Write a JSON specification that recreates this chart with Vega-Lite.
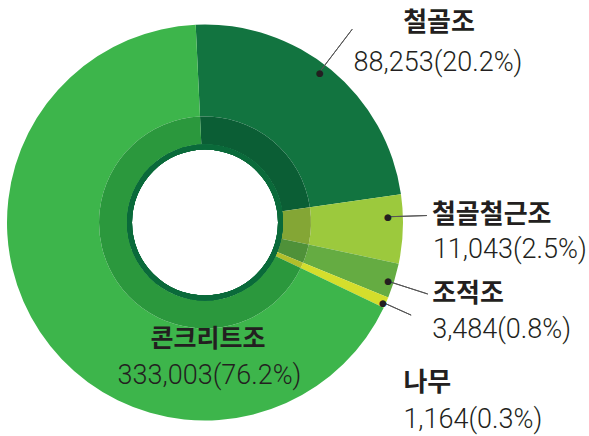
{
  "$schema": "https://vega.github.io/schema/vega-lite/v6.json",
  "width": 400,
  "height": 435,
  "background": "white",
  "config": {"view": {"stroke": null}},
  "data": {
    "values": [
      {"rank": 1, "type": "철골조", "value": 88253, "pct": 20.2, "label": "88,253(20.2%)", "drawn_pct": 23.47},
      {"rank": 2, "type": "철골철근조", "value": 11043, "pct": 2.5, "label": "11,043(2.5%)", "drawn_pct": 5.61},
      {"rank": 3, "type": "조적조", "value": 3484, "pct": 0.8, "label": "3,484(0.8%)", "drawn_pct": 2.86},
      {"rank": 4, "type": "나무", "value": 1164, "pct": 0.3, "label": "1,164(0.3%)", "drawn_pct": 0.89},
      {"rank": 5, "type": "콘크리트조", "value": 333003, "pct": 76.2, "label": "333,003(76.2%)", "drawn_pct": 67.17}
    ]
  },
  "transform": [
    {"stack": "drawn_pct", "groupby": [], "sort": [{"field": "rank", "order": "ascending"}], "as": ["t0", "t1"]},
    {"calculate": "(datum.t0 + datum.t1) / 2", "as": "mid"}
  ],
  "layer": [
    {
      "mark": {"type": "arc", "outerRadius": 198, "innerRadius": 106},
      "encoding": {
        "theta": {"field": "t0", "type": "quantitative", "stack": null, "scale": {"domain": [0, 100], "range": [-0.0471, 6.2361]}},
        "theta2": {"field": "t1"},
        "color": {"field": "type", "type": "nominal", "legend": null,
          "scale": {"domain": ["철골조", "철골철근조", "조적조", "나무", "콘크리트조"], "range": ["#127440", "#9CC93D", "#65AC42", "#D4DE2C", "#3DB54B"]}}
      }
    },
    {
      "mark": {"type": "arc", "outerRadius": 106, "innerRadius": 78},
      "encoding": {
        "theta": {"field": "t0", "type": "quantitative", "stack": null, "scale": {"domain": [0, 100], "range": [-0.0471, 6.2361]}},
        "theta2": {"field": "t1"},
        "fill": {"field": "type", "type": "nominal", "legend": null,
          "scale": {"domain": ["철골조", "철골철근조", "조적조", "나무", "콘크리트조"], "range": ["#0B5E35", "#84A635", "#4F9139", "#B2BE2B", "#2B983D"]}}
      }
    },
    {
      "mark": {"type": "arc", "theta": 0, "theta2": 6.2832, "outerRadius": 78, "innerRadius": 73, "color": "#0A6A3A"},
      "encoding": {}
    },
    {
      "transform": [{"filter": "datum.type === '철골조'"}],
      "layer": [
        {"mark": {"type": "arc", "filled": false, "stroke": "#555555", "strokeWidth": 1, "innerRadius": 189, "outerRadius": 243, "thetaOffset": -0.0393, "theta2Offset": -0.0393},
         "encoding": {"theta": {"field": "mid", "type": "quantitative", "stack": null, "scale": {"domain": [0, 100], "range": [-0.0471, 6.2361]}}, "theta2": {"field": "mid"}}},
        {"mark": {"type": "text", "text": "●", "radius": 188, "dx": -4.7, "dy": -4.7, "fontSize": 9, "font": "DejaVu Sans", "color": "#231F20", "align": "center", "baseline": "middle"},
         "encoding": {"theta": {"field": "mid", "type": "quantitative", "stack": null, "scale": {"domain": [0, 100], "range": [-0.0471, 6.2361]}}}},
        {"mark": {"type": "text", "radius": 188, "dx": 114.3, "dy": -54.2, "align": "center", "baseline": "middle", "font": "Noto Sans CJK KR", "fontWeight": "bold", "fontSize": 26, "color": "#231F20"},
         "encoding": {"theta": {"field": "mid", "type": "quantitative", "stack": null, "scale": {"domain": [0, 100], "range": [-0.0471, 6.2361]}}, "text": {"field": "type"}}},
        {"mark": {"type": "text", "radius": 188, "dx": 113.3, "dy": -15, "align": "center", "baseline": "middle", "font": "Roboto", "fontWeight": 300, "fontSize": 27, "color": "#231F20"},
         "encoding": {"theta": {"field": "mid", "type": "quantitative", "stack": null, "scale": {"domain": [0, 100], "range": [-0.0471, 6.2361]}}, "text": {"field": "label"}}}
      ]
    },
    {
      "transform": [{"filter": "datum.type === '철골철근조'"}],
      "layer": [
        {"mark": {"type": "arc", "filled": false, "stroke": "#555555", "strokeWidth": 1, "innerRadius": 183, "outerRadius": 222, "thetaOffset": -0.0644, "theta2Offset": -0.0644},
         "encoding": {"theta": {"field": "mid", "type": "quantitative", "stack": null, "scale": {"domain": [0, 100], "range": [-0.0471, 6.2361]}}, "theta2": {"field": "mid"}}},
        {"mark": {"type": "text", "text": "●", "radius": 188, "dx": -4.9, "dy": -11.9, "fontSize": 9, "font": "DejaVu Sans", "color": "#231F20", "align": "center", "baseline": "middle"},
         "encoding": {"theta": {"field": "mid", "type": "quantitative", "stack": null, "scale": {"domain": [0, 100], "range": [-0.0471, 6.2361]}}}},
        {"mark": {"type": "text", "radius": 188, "dx": 39, "dy": -13.9, "align": "left", "baseline": "middle", "font": "Noto Sans CJK KR", "fontWeight": "bold", "fontSize": 26, "color": "#231F20"},
         "encoding": {"theta": {"field": "mid", "type": "quantitative", "stack": null, "scale": {"domain": [0, 100], "range": [-0.0471, 6.2361]}}, "text": {"field": "type"}}},
        {"mark": {"type": "text", "radius": 188, "dx": 40, "dy": 21, "align": "left", "baseline": "middle", "font": "Roboto", "fontWeight": 300, "fontSize": 27, "color": "#231F20"},
         "encoding": {"theta": {"field": "mid", "type": "quantitative", "stack": null, "scale": {"domain": [0, 100], "range": [-0.0471, 6.2361]}}, "text": {"field": "label"}}}
      ]
    },
    {
      "transform": [{"filter": "datum.type === '조적조'"}],
      "layer": [
        {"mark": {"type": "arc", "filled": false, "stroke": "#555555", "strokeWidth": 1, "innerRadius": 192, "outerRadius": 234, "thetaOffset": 0.0115, "theta2Offset": 0.0115},
         "encoding": {"theta": {"field": "mid", "type": "quantitative", "stack": null, "scale": {"domain": [0, 100], "range": [-0.0471, 6.2361]}}, "theta2": {"field": "mid"}}},
        {"mark": {"type": "text", "text": "●", "radius": 188, "dx": 3.4, "dy": 2.9, "fontSize": 9, "font": "DejaVu Sans", "color": "#231F20", "align": "center", "baseline": "middle"},
         "encoding": {"theta": {"field": "mid", "type": "quantitative", "stack": null, "scale": {"domain": [0, 100], "range": [-0.0471, 6.2361]}}}},
        {"mark": {"type": "text", "radius": 188, "dx": 47.5, "dy": 15.9, "align": "left", "baseline": "middle", "font": "Noto Sans CJK KR", "fontWeight": "bold", "fontSize": 26, "color": "#231F20"},
         "encoding": {"theta": {"field": "mid", "type": "quantitative", "stack": null, "scale": {"domain": [0, 100], "range": [-0.0471, 6.2361]}}, "text": {"field": "type"}}},
        {"mark": {"type": "text", "radius": 188, "dx": 47.5, "dy": 52, "align": "left", "baseline": "middle", "font": "Roboto", "fontWeight": 300, "fontSize": 27, "color": "#231F20"},
         "encoding": {"theta": {"field": "mid", "type": "quantitative", "stack": null, "scale": {"domain": [0, 100], "range": [-0.0471, 6.2361]}}, "text": {"field": "label"}}}
      ]
    },
    {
      "transform": [{"filter": "datum.type === '나무'"}],
      "layer": [
        {"mark": {"type": "arc", "filled": false, "stroke": "#555555", "strokeWidth": 1, "innerRadius": 195, "outerRadius": 226, "thetaOffset": 0.0054, "theta2Offset": 0.0054},
         "encoding": {"theta": {"field": "mid", "type": "quantitative", "stack": null, "scale": {"domain": [0, 100], "range": [-0.0471, 6.2361]}}, "theta2": {"field": "mid"}}},
        {"mark": {"type": "text", "text": "●", "radius": 188, "dx": 6.1, "dy": 4.2, "fontSize": 9, "font": "DejaVu Sans", "color": "#231F20", "align": "center", "baseline": "middle"},
         "encoding": {"theta": {"field": "mid", "type": "quantitative", "stack": null, "scale": {"domain": [0, 100], "range": [-0.0471, 6.2361]}}}},
        {"mark": {"type": "text", "radius": 188, "dx": 26.5, "dy": 84.7, "align": "left", "baseline": "middle", "font": "Noto Sans CJK KR", "fontWeight": "bold", "fontSize": 26, "color": "#231F20"},
         "encoding": {"theta": {"field": "mid", "type": "quantitative", "stack": null, "scale": {"domain": [0, 100], "range": [-0.0471, 6.2361]}}, "text": {"field": "type"}}},
        {"mark": {"type": "text", "radius": 188, "dx": 26.5, "dy": 121, "align": "left", "baseline": "middle", "font": "Roboto", "fontWeight": 300, "fontSize": 27, "color": "#231F20"},
         "encoding": {"theta": {"field": "mid", "type": "quantitative", "stack": null, "scale": {"domain": [0, 100], "range": [-0.0471, 6.2361]}}, "text": {"field": "label"}}}
      ]
    },
    {
      "transform": [{"filter": "datum.type === '콘크리트조'"}],
      "layer": [
        {"mark": {"type": "text", "radius": 0, "dx": 3, "dy": 116.5, "align": "center", "baseline": "middle", "font": "Noto Sans CJK KR", "fontWeight": "bold", "fontSize": 25, "color": "#231F20"},
         "encoding": {"theta": {"field": "mid", "type": "quantitative", "stack": null, "scale": {"domain": [0, 100], "range": [-0.0471, 6.2361]}}, "text": {"field": "type"}}},
        {"mark": {"type": "text", "radius": 0, "dx": 4.5, "dy": 153, "align": "center", "baseline": "middle", "font": "Roboto", "fontWeight": 300, "fontSize": 27, "color": "#231F20"},
         "encoding": {"theta": {"field": "mid", "type": "quantitative", "stack": null, "scale": {"domain": [0, 100], "range": [-0.0471, 6.2361]}}, "text": {"field": "label"}}}
      ]
    }
  ]
}
